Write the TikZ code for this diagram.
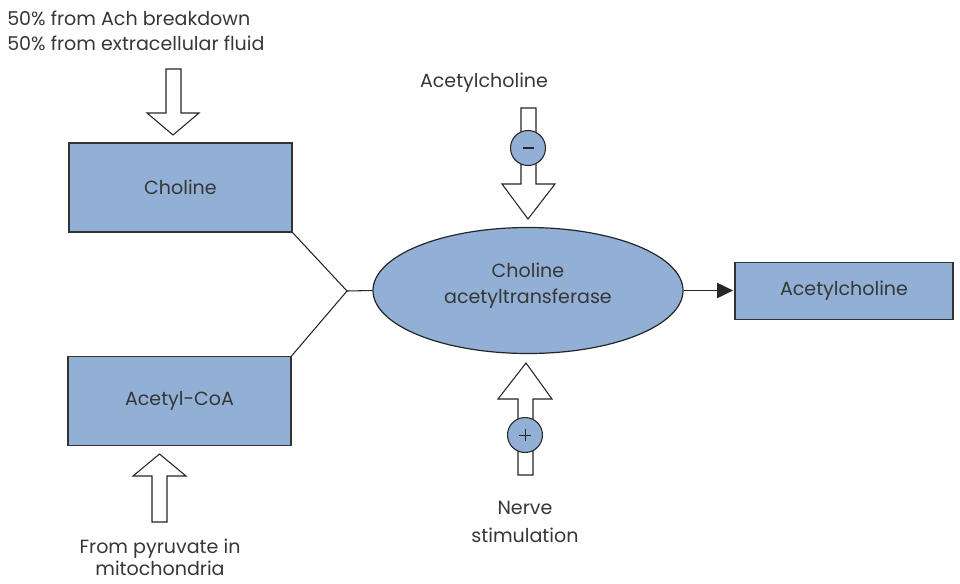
\documentclass[tikz,border=0pt]{standalone}
\usepackage{fontspec}
\setmainfont{Poppins}
\usetikzlibrary{shapes.geometric,arrows.meta}
\definecolor{boxblue}{RGB}{146,175,214}
\definecolor{txt}{RGB}{55,55,55}
\tikzset{
  box/.style={draw=black!80, line width=0.9pt, fill=boxblue, minimum width=223*0.75pt, minimum height=89*0.75pt, inner sep=0pt, text=txt, font=\fontsize{14.3}{19}\selectfont},
  lbl/.style={text=txt, font=\fontsize{14.3}{19}\selectfont, align=center, inner sep=0pt},
  blockarrow/.style={draw=black!85, line width=0.8pt, fill=white, line join=miter},
  sign/.style={circle, draw=black!85, line width=0.8pt, fill=boxblue, minimum size=35*0.75pt, inner sep=0pt},
  link/.style={draw=black!85, line width=0.8pt}
}
\begin{document}
\begin{tikzpicture}[x=0.75pt, y=-0.75pt]
\useasboundingbox (0,0) rectangle (960,583);
% boxes
\node[box] (choline) at (180.5,187.5) {Choline};
\node[box] (acoa) at (179.5,401) {Acetyl-CoA};
\node[box, minimum width=218*0.75pt, minimum height=57*0.75pt] (ach) at (844,291) {Acetylcholine};
\node[ellipse, draw=black!85, line width=0.9pt, fill=boxblue, minimum width=310*0.75pt, minimum height=126*0.75pt, inner sep=0pt] (chat) at (528,290.5) {};
\node[lbl, font=\fontsize{14.3}{19.5}\selectfont] (chattext) at (528,285.5) {Choline\\acetyltransferase};
% junction
\coordinate (junc) at (347,291);
\draw[link] (choline.south east) -- (junc) -- (acoa.north east);
\draw[link] (junc) -- (chat.west);
\draw[link, -{Triangle[length=12pt,width=11.5pt]}, shorten >=1pt] (chat.east) -- (chat.east -| ach.west);
% labels
\node[lbl, anchor=west, align=left, font=\fontsize{14.3}{18.75}\selectfont] (src1) at (7,31) {50\% from Ach breakdown\\50\% from extracellular fluid};
\node[lbl, font=\fontsize{14.3}{16.5}\selectfont] (src2) at (160,557.5) {From pyruvate in\\mitochondria};
\node[lbl] (inhib) at (484,83) {Acetylcholine};
\node[lbl, font=\fontsize{14.3}{21}\selectfont] (nerve) at (525,522) {Nerve\\stimulation};
% block arrow down into choline
\draw[blockarrow] (166,69) -- (181,69) -- (181,113) -- (199,113) -- (173,135) -- (147,113) -- (166,113) -- cycle;
% block arrow up into acetyl-CoA
\draw[blockarrow] (152,522) -- (167,522) -- (167,476) -- (186,476) -- (159.5,454) -- (133,476) -- (152,476) -- cycle;
% inhibitory arrow (top)
\draw[blockarrow] (521,108) -- (536,108) -- (536,184) -- (555,184) -- (528,219) -- (502,184) -- (521,184) -- cycle;
\node[sign] (minus) at (528,148) {};
\draw[line width=0.8pt, black!85] ([xshift=-5.5*0.75pt]minus.center) -- ([xshift=5.5*0.75pt]minus.center);
% stimulatory arrow (bottom)
\draw[blockarrow] (518,475) -- (533,475) -- (533,399) -- (552,399) -- (526,363) -- (498,399) -- (518,399) -- cycle;
\node[sign] (plus) at (525,435) {};
\draw[line width=0.7pt, black!85] ([xshift=-6*0.75pt]plus.center) -- ([xshift=6*0.75pt]plus.center);
\draw[line width=0.7pt, black!85] ([yshift=-6*0.75pt]plus.center) -- ([yshift=6*0.75pt]plus.center);
\end{tikzpicture}
\end{document}
